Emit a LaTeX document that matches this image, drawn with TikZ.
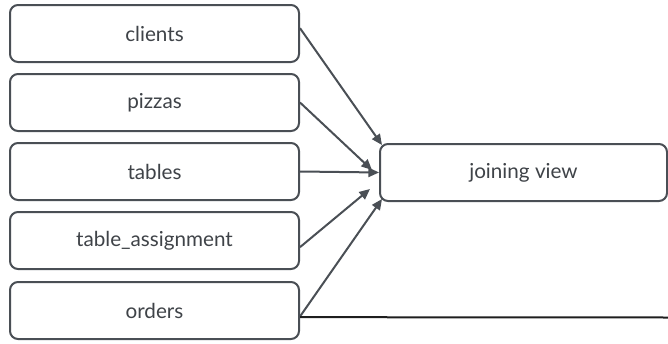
\documentclass[tikz,border=0pt]{standalone}
\usepackage{fontspec}
\setmainfont{Lato}
\usetikzlibrary{arrows.meta}
\definecolor{ink}{HTML}{4A4F55}
\definecolor{dark}{HTML}{1E1E1E}
\tikzset{
  table/.style={draw=ink, line width=1.5pt, rounded corners=6pt, fill=white,
    minimum width=216.75pt, minimum height=42.75pt, inner sep=0pt,
    font=\fontsize{15.5}{17}\selectfont, text=ink!85!black},
  feed/.style={draw=ink, line width=1.5pt, -{Triangle[length=8pt,width=7pt]}},
}
\begin{document}
\begin{tikzpicture}[x=0.75pt, y=-0.75pt]
  \useasboundingbox (0,0) rectangle (668,343);
  % source tables
  \node[table] (clients) at (154.5,33.5) {clients};
  \node[table] (pizzas)  at (154.5,102.5) {pizzas};
  \node[table] (tables)  at (154.5,171.5) {tables};
  \node[table] (assign)  at (154.5,240.5) {table\_assignment};
  \node[table] (orders)  at (154.5,310.5) {orders};
  % target view
  \node[table, minimum width=215.25pt] (view) at (523.5,172.5) {joining view};
  % arrow end points
  \coordinate (t1) at (382,145);
  \coordinate (t2) at (372,170);
  \coordinate (t4) at (370,189);
  \coordinate (t5) at (382,199);
  \coordinate (edge) at (668,317.5);
  % connectors
  \draw[feed] ([yshift=4pt]clients.east) -- (t1);
  \draw[feed] (pizzas.east) -- (t2);
  \draw[feed] (tables.east) -- (view.west);
  \draw[feed] ([yshift=-5pt]assign.east) -- (t4);
  \draw[feed] ([yshift=-4.5pt]orders.east) -- (t5);
  \draw[dark, line width=1.5pt] ([yshift=-5pt]orders.east) -- (edge);
\end{tikzpicture}
\end{document}
